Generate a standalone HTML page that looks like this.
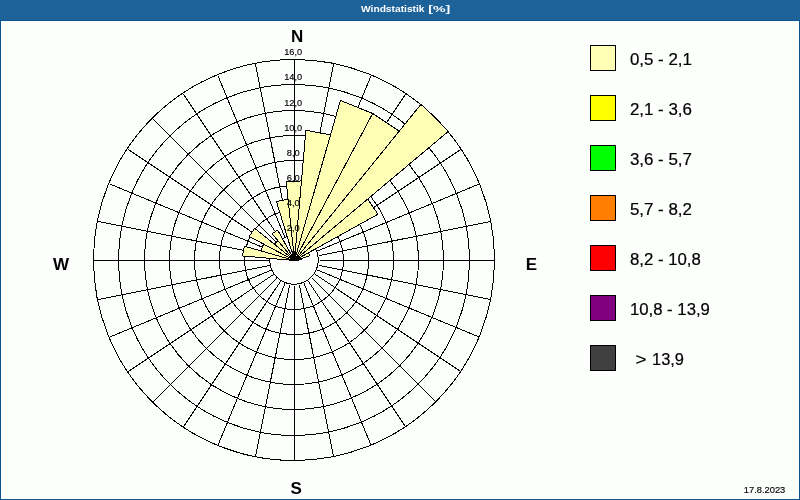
<!DOCTYPE html>
<html lang="de"><head><meta charset="utf-8"><title>Windstatistik [%]</title>
<style>
html,body{margin:0;padding:0;background:#fff;}
body{width:800px;height:500px;overflow:hidden;position:relative;font-family:"Liberation Sans",sans-serif;}
#frame{position:absolute;left:0;top:0;width:800px;height:500px;background:#0b5291;}
#bar{position:absolute;left:0;top:0;width:800px;height:20px;background:#1d6299;}
#inner{position:absolute;left:1px;top:21px;width:798px;height:478px;background:#fdfffd;}
svg{position:absolute;left:0;top:0;}
text{font-family:"Liberation Sans",sans-serif;}
</style></head><body>
<div id="frame"><div id="bar"></div><div id="inner"></div></div>
<svg width="800" height="500" viewBox="0 0 800 500">
<text y="11.8" font-size="9.6" font-weight="bold" fill="#ffffff"><tspan x="361" textLength="63.5" lengthAdjust="spacingAndGlyphs">Windstatistik</tspan><tspan x="428.3" textLength="22" lengthAdjust="spacingAndGlyphs">[%]</tspan></text>
<g fill="none" stroke="#000" stroke-width="1" shape-rendering="crispEdges">
<circle cx="294" cy="260" r="24.25"/>
<circle cx="294" cy="260" r="49.50"/>
<circle cx="294" cy="260" r="74.50"/>
<circle cx="294" cy="260" r="99.50"/>
<circle cx="294" cy="260" r="124.50"/>
<circle cx="294" cy="260" r="149.50"/>
<circle cx="294" cy="260" r="175.50"/>
<circle cx="294" cy="260" r="200.50"/>
<path d="M294.50 235.50L294.50 60.20M299.38 235.98L333.58 64.05M304.07 237.40L371.15 75.45M308.39 239.71L405.78 93.96M312.18 242.82L436.13 118.87M315.29 246.61L461.04 149.22M317.60 250.93L479.55 183.85M319.02 255.62L490.95 221.42M319.50 260.50L494.80 260.50M319.02 265.38L490.95 299.58M317.60 270.07L479.55 337.15M315.29 274.39L461.04 371.78M312.18 278.18L436.13 402.13M308.39 281.29L405.78 427.04M304.07 283.60L371.15 445.55M299.38 285.02L333.58 456.95M294.50 285.50L294.50 460.80M289.62 285.02L255.42 456.95M284.93 283.60L217.85 445.55M280.61 281.29L183.22 427.04M276.82 278.18L152.87 402.13M273.71 274.39L127.96 371.78M271.40 270.07L109.45 337.15M269.98 265.38L98.05 299.58M269.50 260.50L94.20 260.50M269.98 255.62L98.05 221.42M271.40 250.93L109.45 183.85M273.71 246.61L127.96 149.22M276.82 242.82L152.87 118.87M280.61 239.71L183.22 93.96M284.93 237.40L217.85 75.45M289.62 235.98L255.42 64.05"/>
</g>
<g fill="#fefeb4" stroke="#000" stroke-width="1" stroke-linejoin="miter" shape-rendering="crispEdges">
<polygon points="294.50,260.50 286.16,181.14 301.46,181.00"/>
<polygon points="294.50,260.50 305.89,130.30 330.53,134.86"/>
<polygon points="294.50,260.50 340.39,100.45 372.67,113.49"/>
<polygon points="294.50,260.50 372.67,113.49 399.28,131.11"/>
<polygon points="294.50,260.50 420.99,104.29 448.47,131.30"/>
<polygon points="294.50,260.50 367.66,199.11 378.03,214.20"/>
<polygon points="294.50,260.50 308.49,252.74 309.80,255.82"/>
<polygon points="294.50,260.50 301.19,258.45 301.46,259.77"/>
<polygon points="294.50,260.50 242.50,255.95 244.32,246.11"/>
<polygon points="294.50,260.50 260.86,250.85 263.60,244.07"/>
<polygon points="294.50,260.50 249.20,236.42 254.63,228.22"/>
<polygon points="294.50,260.50 274.29,244.14 277.79,240.58"/>
<polygon points="294.50,260.50 272.13,233.84 277.63,230.06"/>
<polygon points="294.50,260.50 291.59,255.25 292.75,254.76"/>
<polygon points="294.50,260.50 276.49,201.59 288.06,199.24"/>
</g>
<polygon points="292.5,251 295.5,251 296,255 297,259 290.5,259 291.5,255" fill="#000" shape-rendering="crispEdges"/>
<g font-size="9.5" fill="#000" stroke="#000" stroke-width="0.15">
<text x="286.7" y="230.8" textLength="13" lengthAdjust="spacingAndGlyphs">2,0</text>
<text x="286.7" y="205.8" textLength="13" lengthAdjust="spacingAndGlyphs">4,0</text>
<text x="286.7" y="180.8" textLength="13" lengthAdjust="spacingAndGlyphs">6,0</text>
<text x="286.7" y="155.8" textLength="13" lengthAdjust="spacingAndGlyphs">8,0</text>
<text x="284.2" y="130.8" textLength="18" lengthAdjust="spacingAndGlyphs">10,0</text>
<text x="284.2" y="105.8" textLength="18" lengthAdjust="spacingAndGlyphs">12,0</text>
<text x="284.2" y="79.8" textLength="18" lengthAdjust="spacingAndGlyphs">14,0</text>
<text x="284.2" y="54.8" textLength="18" lengthAdjust="spacingAndGlyphs">16,0</text>
</g>
<g font-size="17" font-weight="bold" fill="#000" text-anchor="middle">
<text x="297.2" y="41.6">N</text>
<text x="296.2" y="493.6">S</text>
<text x="61" y="269.6">W</text>
<text x="531.4" y="269.8">E</text>
</g>
<g shape-rendering="crispEdges" stroke="#000" stroke-width="1">
<rect x="590.5" y="45.5" width="25" height="25" fill="#fefeb4"/>
<rect x="590.5" y="95.5" width="25" height="25" fill="#ffff00"/>
<rect x="590.5" y="145.5" width="25" height="25" fill="#00ff00"/>
<rect x="590.5" y="195.5" width="25" height="25" fill="#ff8000"/>
<rect x="590.5" y="245.5" width="25" height="25" fill="#ff0000"/>
<rect x="590.5" y="295.5" width="25" height="25" fill="#800080"/>
<rect x="590.5" y="345.5" width="25" height="25" fill="#404040"/>
</g>
<g font-size="16" fill="#000" stroke="#000" stroke-width="0.2">
<text x="629.9" y="65" textLength="62" lengthAdjust="spacingAndGlyphs">0,5 - 2,1</text>
<text x="629.9" y="115" textLength="62" lengthAdjust="spacingAndGlyphs">2,1 - 3,6</text>
<text x="629.9" y="165" textLength="62" lengthAdjust="spacingAndGlyphs">3,6 - 5,7</text>
<text x="629.9" y="215" textLength="62" lengthAdjust="spacingAndGlyphs">5,7 - 8,2</text>
<text x="629.9" y="265" textLength="71" lengthAdjust="spacingAndGlyphs">8,2 - 10,8</text>
<text x="629.9" y="315" textLength="80" lengthAdjust="spacingAndGlyphs">10,8 - 13,9</text>
<text y="365"><tspan x="635.6" textLength="11" lengthAdjust="spacingAndGlyphs">&gt;</tspan> <tspan x="652" textLength="32" lengthAdjust="spacingAndGlyphs">13,9</tspan></text>
</g>
<text x="743.8" y="493" font-size="9.8" fill="#000" stroke="#000" stroke-width="0.15" textLength="41.5" lengthAdjust="spacingAndGlyphs">17.8.2023</text>
</svg>
</body></html>
